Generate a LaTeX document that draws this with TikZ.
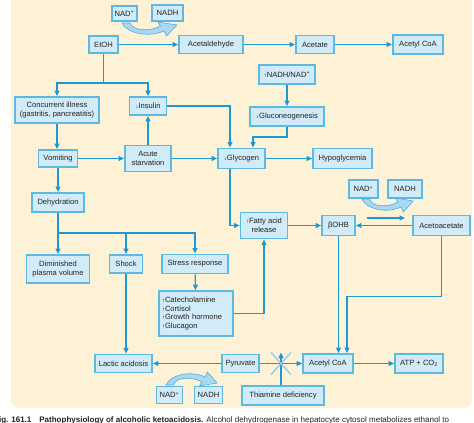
\documentclass[tikz,border=0pt]{standalone}
\usepackage{fontspec}
\setmainfont{Liberation Sans}
\usetikzlibrary{arrows.meta,shadows}
\definecolor{bg}{HTML}{FDF2D6}
\definecolor{boxfill}{HTML}{D2EBF8}
\definecolor{boxline}{HTML}{5DB8E4}
\definecolor{connc}{HTML}{1C98D3}
\definecolor{txt}{HTML}{222222}
\definecolor{swfill}{HTML}{A9D9F2}
\definecolor{swline}{HTML}{4BAEE0}
\newcommand{\upa}{{\fontsize{6}{6}\selectfont ↑}}
\newcommand{\dna}{{\fontsize{6}{6}\selectfont ↓}}
\newcommand{\mybox}[5]{\node[box,minimum width=#3pt,minimum height=#4pt] (#1) at (#2) {#5};}
\begin{document}
\begin{tikzpicture}[x=1pt,y=-1pt,
  box/.style={draw=boxline, line width=1.8pt, fill=boxfill, inner sep=0pt, align=center,
    font=\fontsize{7.6}{8.6}\selectfont, text=txt,
    drop shadow={shadow xshift=0.8pt, shadow yshift=-0.8pt, opacity=0.25}},
  conn/.style={draw=connc, line width=1.2pt},
  arr/.style={conn, -{Triangle[length=5.5pt,width=5pt]}},
  swoosh/.pic={\draw[fill=swfill, draw=swline, line width=0.6pt]
     (8,0) .. controls (10.5,8) and (28,9) .. (38.5,3) -- (36,-1) -- (55,2)
     -- (44.5,13) -- (42,8) .. controls (25.7,15) and (4.7,10) .. (0,0) -- cycle;}]
\useasboundingbox (0,0) rectangle (474,423);
\fill[bg, rounded corners=8pt] (11,-10) rectangle (472,408);

% boxes
\mybox{nadA}{124.5,13.5}{25}{15}{NAD\textsuperscript{+}}
\mybox{nadhA}{167.5,13}{31}{16}{NADH}
\mybox{etoh}{103.5,44.5}{29}{17}{EtOH}
\mybox{acetald}{211,44.5}{64}{18}{Acetaldehyde}
\mybox{acetate}{315,44.5}{38}{18}{Acetate}
\mybox{acoaTop}{418,44.5}{50}{19}{Acetyl CoA}
\mybox{ratio}{287,74.5}{56}{19}{\upa NADH/NAD\textsuperscript{+}}
\mybox{gluco}{287,116.5}{74}{19}{\dna Gluconeogenesis}
\mybox{illness}{57,110}{84}{26}{Concurrent illness\\(gastritis, pancreatitis)}
\mybox{insulin}{148,106}{37}{18}{\dna Insulin}
\mybox{vomit}{58,158.5}{39}{17}{Vomiting}
\mybox{starv}{148,158.5}{46}{26}{Acute\\starvation}
\mybox{glycogen}{241.5,158.5}{47}{20}{\dna Glycogen}
\mybox{hypo}{342.5,158.5}{59}{20}{Hypoglycemia}
\mybox{dehyd}{58,202.5}{52}{19}{Dehydration}
\mybox{fatty}{264,225.5}{47}{26}{\upa Fatty acid\\release}
\mybox{bohb}{338.5,225.5}{33}{20}{βOHB}
\mybox{acetoac}{441.5,225.5}{57}{20}{Acetoacetate}
\mybox{nadR}{363.5,189}{29}{18}{NAD\textsuperscript{+}}
\mybox{nadhR}{405,189}{34}{18}{NADH}
\mybox{dimin}{58,269}{63}{28}{Diminished\\plasma volume}
\mybox{shock}{126,264}{33}{18}{Shock}
\mybox{stress}{195,264}{66}{19}{Stress response}
\node[box, align=left, minimum width=74pt, minimum height=45pt, text width=68pt] (catech) at (196,313.5)
  {\upa Catecholamine\\\upa Cortisol\\\upa Growth hormone\\\upa Glucagon};
\mybox{lactic}{123.5,363.5}{57}{18}{Lactic acidosis}
\mybox{pyruv}{240.5,363.5}{37}{18}{Pyruvate}
\mybox{acoaBot}{328,363.5}{50}{19}{Acetyl CoA}
\mybox{atp}{419,363.5}{48}{19}{ATP + CO\textsubscript{2}}
\mybox{thiam}{283,395.5}{82}{19}{Thiamine deficiency}
\mybox{nadB}{169.5,395}{26}{17}{NAD\textsuperscript{+}}
\mybox{nadhB}{208.5,395}{28}{17}{NADH}

% swooshes
\pic at (122,23) {swoosh};
\pic[xscale=0.93] at (362,199) {swoosh};
\pic[xscale=0.93, yscale=-1] at (166,385) {swoosh};

% coordinates
\coordinate (s1) at (103.5,83);
\coordinate (s2) at (58,233);
\coordinate (xc) at (281,363.5);
\coordinate (ra) at (367,218);
\coordinate (rb) at (405,218);

% connectors
\draw[arr] (etoh) -- (acetald);
\draw[arr] (acetald) -- (acetate);
\draw[arr] (acetate) -- (acoaTop);
\draw[conn] (etoh.south) -- (s1);
\draw[arr] (s1) -| (illness.north);
\draw[arr] (s1) -| (insulin.north);
\draw[arr] (ratio) -- (gluco);
\draw[arr] (gluco.south) -- ++(0,10) -| ([xshift=11.5pt]glycogen.north);
\draw[arr] (insulin.east) -| ([xshift=-11.5pt]glycogen.north);
\draw[arr] (illness.south) -- (illness.south |- vomit.north);
\draw[arr] (starv) -- (insulin);
\draw[arr] (vomit) -- (starv);
\draw[arr] (starv) -- (glycogen);
\draw[arr] (glycogen) -- (hypo);
\draw[arr] (vomit) -- (dehyd);
\draw[conn] (dehyd.south) -- (s2);
\draw[arr] (s2) -- (dimin.north);
\draw[arr] (s2) -| (shock.north);
\draw[arr] (s2) -| (stress.north);
\draw[arr] (stress) -- (catech);
\draw[arr] (catech.east) -| (fatty.south);
\draw[arr] ([xshift=-11.5pt]glycogen.south) |- (fatty.west);
\draw[arr] (fatty) -- (bohb);
\draw[arr] (acetoac) -- (bohb);
\draw[arr] (ra) -- (rb);
\draw[arr] (bohb.south) -- (bohb.south |- acoaBot.north);
\draw[arr] (acetoac.south) -- ++(0,60) -| ([xshift=19pt]acoaBot.north);
\draw[arr] (acoaBot) -- (atp);
\draw[arr] (pyruv) -- (lactic);
\draw[arr] (pyruv) -- (acoaBot);
\draw[arr] (thiam.north -| xc) -- ([yshift=11pt]xc);
\draw[arr] (shock.south) -- (shock.south |- lactic.north);
\draw[draw=swfill!80!connc, line width=1.3pt] ([shift={(-10,-11)}]xc) -- ([shift={(10,11)}]xc)
   ([shift={(-10,11)}]xc) -- ([shift={(10,-11)}]xc);

% caption
\node[anchor=base west, inner sep=0pt, font=\fontsize{8}{9}\selectfont, text=txt] (cap) at (-6,422)
  {\textbf{Fig. 161.1\quad Pathophysiology of alcoholic ketoacidosis.} Alcohol dehydrogenase in hepatocyte cytosol metabolizes ethanol to};
\end{tikzpicture}
\end{document}
